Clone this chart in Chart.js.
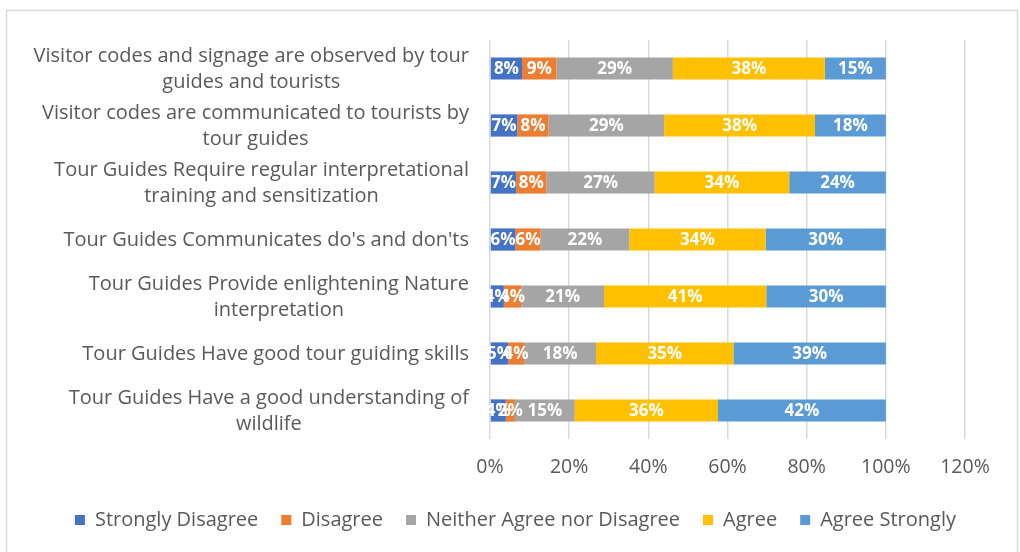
<!DOCTYPE html>
<html>
<head>
<meta charset="utf-8">
<script src="https://cdn.jsdelivr.net/npm/chart.js@4/dist/chart.umd.min.js"></script>
<style>
  html, body { margin: 0; padding: 0; background: #fff; }
  #wrap { width: 1020px; height: 552px; position: relative; }
</style>
</head>
<body>
<div id="wrap"><canvas id="c" width="1020" height="552"></canvas></div>
<script>
// Categories (each entry is the list of wrapped lines)
const categories = [
  ["Visitor codes and signage are observed by tour", "guides and tourists"],
  ["Visitor codes are communicated to tourists by", "tour guides"],
  ["Tour Guides Require regular interpretational", "training and sensitization"],
  ["Tour Guides Communicates do's and don'ts"],
  ["Tour Guides Provide enlightening Nature", "interpretation"],
  ["Tour Guides Have good tour guiding skills"],
  ["Tour Guides Have a good understanding of", "wildlife"]
];
const seriesNames = ["Strongly Disagree", "Disagree", "Neither Agree nor Disagree", "Agree", "Agree Strongly"];
const stronglyDisagree = [8.1, 6.9, 6.6, 6.4, 3.5, 4.6, 4.0];
const disagree         = [8.7, 7.9, 7.7, 6.4, 4.4, 4.0, 2.3];
const neither          = [29.4, 29.2, 27.3, 22.4, 20.9, 18.2, 15.1];
const agree            = [38.4, 38.1, 34.0, 34.4, 41.0, 34.7, 36.2];
const agreeStrongly    = [15.4, 17.9, 24.4, 30.4, 30.2, 38.5, 42.4];
const xTicks = [0, 20, 40, 60, 80, 100, 120];

const colors = ["#4472C4", "#ED7D31", "#A5A5A5", "#FFC000", "#5B9BD5"];
const seriesData = [stronglyDisagree, disagree, neither, agree, agreeStrongly];
const FONT = "'Open Sans', 'Noto Sans', sans-serif";
const TEXT = "#595959";

const framePlugin = {
  id: 'frame',
  afterLayout(chart) {
    if (chart.legend) { chart.legend.left += 14; chart.legend.right += 14; }
  },
  beforeDraw(chart) {
    const ctx = chart.ctx;
    ctx.save();
    ctx.fillStyle = '#fff';
    ctx.fillRect(0, 0, chart.width, chart.height);
    ctx.strokeStyle = '#d9d9d9';
    ctx.lineWidth = 1.5;
    ctx.strokeRect(6.5, 10.5, 1011, 600);
    ctx.restore();
  }
};

const catLabelPlugin = {
  id: 'catLabels',
  afterDraw(chart) {
    const ctx = chart.ctx;
    const ys = chart.scales.y;
    const rightEdge = 469;
    const lh = 26;
    ctx.save();
    ctx.font = "20px " + FONT;
    ctx.fillStyle = TEXT;
    ctx.textAlign = 'center';
    ctx.textBaseline = 'middle';
    categories.forEach((lines, i) => {
      const y = ys.getPixelForValue(i);
      let maxW = 0;
      lines.forEach(l => { maxW = Math.max(maxW, ctx.measureText(l).width); });
      const cx = rightEdge - maxW / 2;
      lines.forEach((l, j) => {
        ctx.fillText(l, cx, y + 0.5 + (j - (lines.length - 1) / 2) * lh);
      });
    });
    ctx.restore();
  }
};

const valueLabelPlugin = {
  id: 'valueLabels',
  afterDatasetsDraw(chart) {
    const ctx = chart.ctx;
    ctx.save();
    ctx.font = "bold 17px " + FONT;
    ctx.fillStyle = '#fff';
    ctx.textAlign = 'center';
    ctx.textBaseline = 'middle';
    chart.data.datasets.forEach((ds, d) => {
      const meta = chart.getDatasetMeta(d);
      meta.data.forEach((el, i) => {
        const v = ds.data[i];
        const x = (el.x + el.base) / 2;
        ctx.fillText(Math.round(v) + '%', x, el.y + 1);
      });
    });
    ctx.restore();
  }
};

new Chart(document.getElementById('c'), {
  type: 'bar',
  data: {
    labels: categories.map(l => l.join(' ')),
    datasets: seriesNames.map((n, k) => ({
      label: n,
      data: seriesData[k],
      backgroundColor: colors[k],
      borderWidth: 0,
      barPercentage: 0.39,
      categoryPercentage: 1.0
    }))
  },
  options: {
    indexAxis: 'y',
    responsive: false,
    animation: false,
    events: [],
    layout: { padding: { left: 0, right: 55, top: 40, bottom: 12 } },
    scales: {
      x: {
        stacked: true,
        min: 0, max: 120,
        afterBuildTicks(scale) { scale.ticks = xTicks.map(v => ({ value: v })); },
        ticks: {
          callback: v => v + '%',
          color: TEXT,
          font: { family: FONT, size: 19.5 },
          padding: 17,
          maxRotation: 0
        },
        grid: { color: '#d9d9d9', lineWidth: 1.5, drawTicks: false },
        border: { display: false },
        afterFit(scale) { scale.height = 48; }
      },
      y: {
        stacked: true,
        ticks: { display: false },
        grid: { display: false, drawTicks: false },
        border: { display: false },
        afterFit(scale) { scale.width = 490; }
      }
    },
    plugins: {
      legend: {
        position: 'bottom',
        align: 'end',
        labels: {
          boxWidth: 10, boxHeight: 10,
          color: TEXT,
          font: { family: FONT, size: 20 },
          padding: 23
        }
      },
      tooltip: { enabled: false }
    }
  },
  plugins: [framePlugin, catLabelPlugin, valueLabelPlugin]
});
</script>
</body>
</html>
